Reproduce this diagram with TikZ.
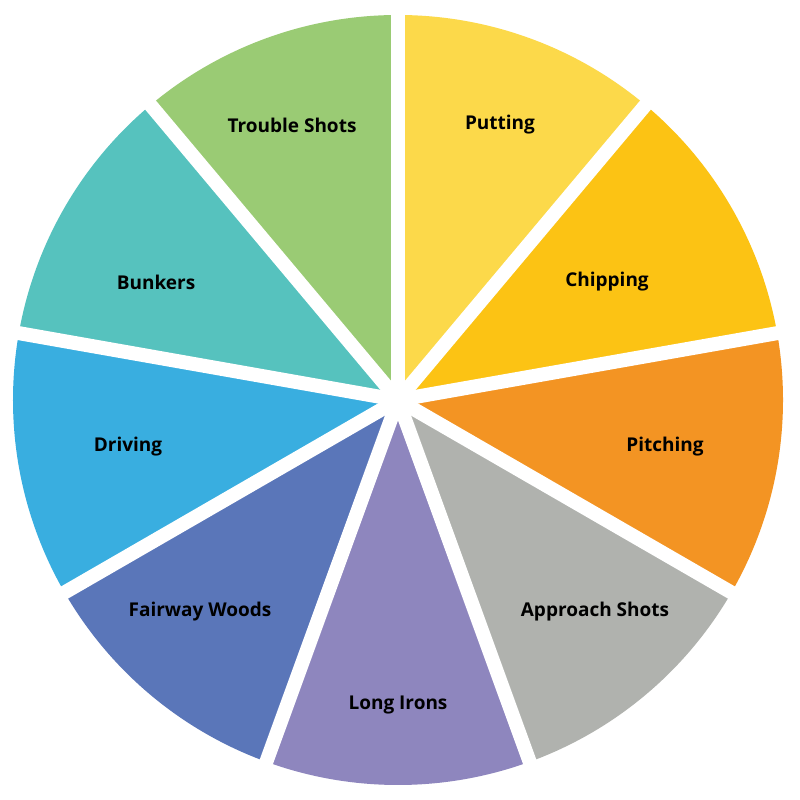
\documentclass[tikz,border=0pt]{standalone}
\usepackage{fontspec}
\setmainfont{Open Sans}
\definecolor{cput}{HTML}{FCD94A}
\definecolor{cchip}{HTML}{FCC314}
\definecolor{cpitch}{HTML}{F39423}
\definecolor{cappr}{HTML}{B0B2AE}
\definecolor{clong}{HTML}{8E86BE}
\definecolor{cfair}{HTML}{5A76B9}
\definecolor{cdrive}{HTML}{39AEE0}
\definecolor{cbunk}{HTML}{56C2BE}
\definecolor{ctrou}{HTML}{9ACB74}
\tikzset{lbl/.style={font=\fontsize{19}{22}\selectfont\bfseries,text=black}}
\begin{document}
\begin{tikzpicture}[x=1pt,y=1pt]
\useasboundingbox[fill=white] (0,0) rectangle (800,800);
\coordinate (c) at (398,400);
\foreach \a/\col in {50/cput,10/cchip,-30/cpitch,-70/cappr,-110/clong,-150/cfair,-190/cdrive,-230/cbunk,-270/ctrou}{
  \fill[\col] (c) -- ++(\a:385) arc[start angle=\a,end angle=\a+40,radius=385] -- cycle;
}
\foreach \a in {90,50,10,-30,-70,-110,-150,170,130}{
  \draw[white,line width=14] (c) -- ++(\a:400);
}
\node[lbl] (t1) at (292,675) {Trouble Shots};
\node[lbl] (t2) at (500,675) {Putting};
\node[lbl] (t3) at (607,518) {Chipping};
\node[lbl] (t4) at (665,353) {Pitching};
\node[lbl] (t5) at (595,188) {Approach Shots};
\node[lbl] (t6) at (398,95) {Long Irons};
\node[lbl] (t7) at (200,188) {Fairway Woods};
\node[lbl] (t8) at (128,353) {Driving};
\node[lbl] (t9) at (156,518) {Bunkers};
\end{tikzpicture}
\end{document}
